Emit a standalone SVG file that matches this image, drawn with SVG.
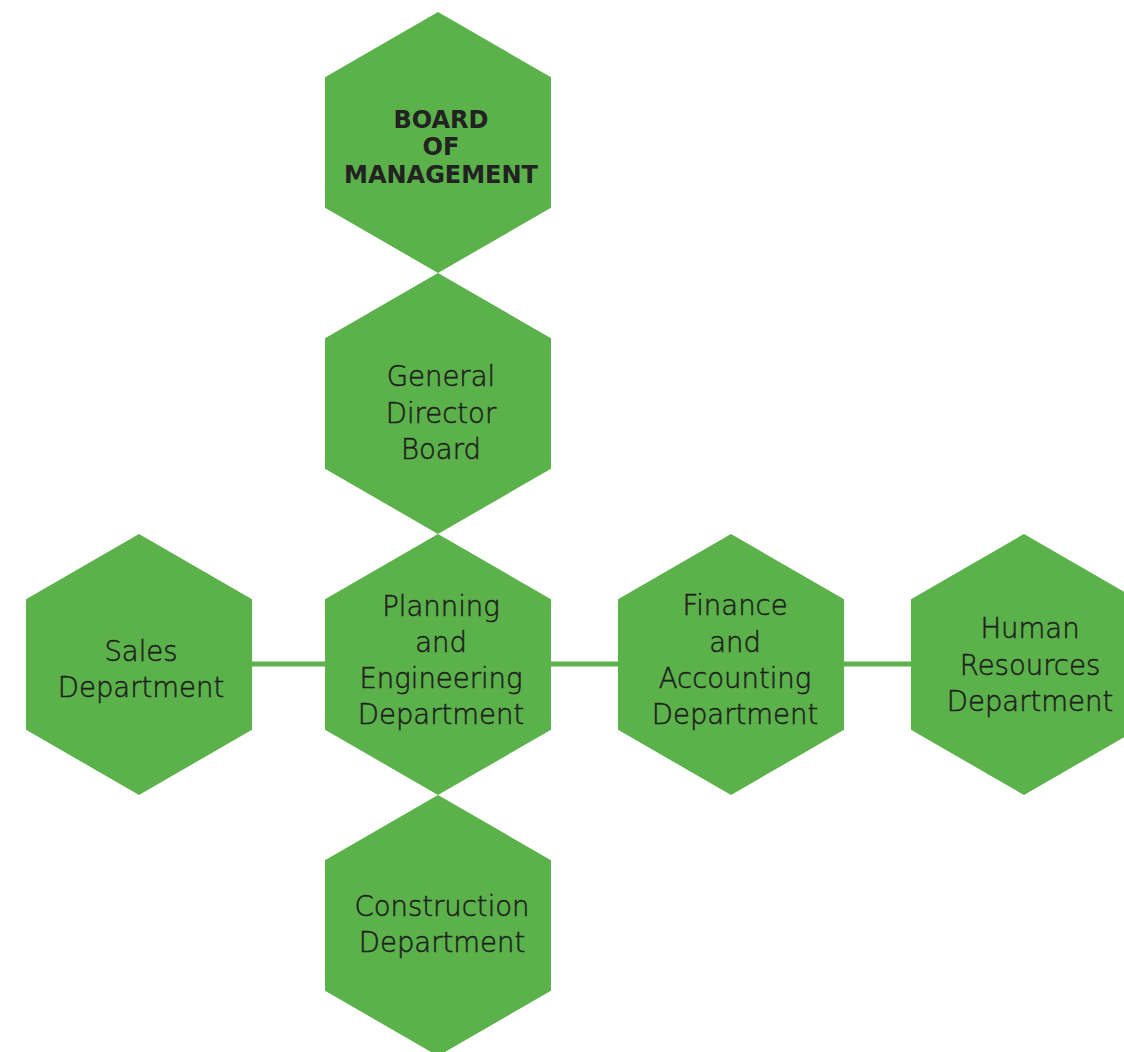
<svg xmlns="http://www.w3.org/2000/svg" xmlns:xlink="http://www.w3.org/1999/xlink" width="1124" height="1052" viewBox="0 0 1124 1052">
<style>
.hex{fill:#5bb14a}
.conn{stroke:#5bb14a;stroke-width:5;fill:none}
.t{font-family:"DejaVu Sans","Liberation Sans",sans-serif;font-size:27.5px;font-weight:300;fill:#1e1e1e;stroke:#1e1e1e;stroke-width:0.5;text-anchor:middle}
.b{font-family:"DejaVu Sans","Liberation Sans",sans-serif;font-size:24px;font-weight:bold;fill:#222;text-anchor:middle}
</style>
<defs>
<polygon id="hx" points="0,-130.5 113,-65.25 113,65.25 0,130.5 -113,65.25 -113,-65.25"/>
</defs>
<rect width="1124" height="1052" fill="#fff"/>
<g id="connectors">
<line class="conn" x1="250" y1="664" x2="327" y2="664"/>
<line class="conn" x1="549" y1="664" x2="620" y2="664"/>
<line class="conn" x1="842" y1="664" x2="912" y2="664"/>
</g>
<g id="board">
<use xlink:href="#hx" class="hex" x="438" y="142.5"/>
<text class="b" x="441" y="128">BOARD</text>
<text class="b" x="441" y="155">OF</text>
<text class="b" x="441" y="183">MANAGEMENT</text>
</g>
<g id="general-director">
<use xlink:href="#hx" class="hex" x="438" y="403.5"/>
<text class="t" x="441" y="386">General</text>
<text class="t" x="441" y="423">Director</text>
<text class="t" x="441" y="459">Board</text>
</g>
<g id="planning">
<use xlink:href="#hx" class="hex" x="438" y="664.5"/>
<text class="t" x="441" y="616">Planning</text>
<text class="t" x="441" y="652">and</text>
<text class="t" x="441" y="688">Engineering</text>
<text class="t" x="441" y="724">Department</text>
</g>
<g id="sales">
<use xlink:href="#hx" class="hex" x="139" y="664.5"/>
<text class="t" x="141" y="661">Sales</text>
<text class="t" x="141" y="697">Department</text>
</g>
<g id="finance">
<use xlink:href="#hx" class="hex" x="731" y="664.5"/>
<text class="t" x="735" y="615">Finance</text>
<text class="t" x="735" y="652">and</text>
<text class="t" x="735" y="688">Accounting</text>
<text class="t" x="735" y="724">Department</text>
</g>
<g id="hr">
<use xlink:href="#hx" class="hex" x="1024" y="664.5"/>
<text class="t" x="1030" y="638">Human</text>
<text class="t" x="1030" y="675">Resources</text>
<text class="t" x="1030" y="711">Department</text>
</g>
<g id="construction">
<use xlink:href="#hx" class="hex" x="438" y="925.5"/>
<text class="t" x="442" y="916">Construction</text>
<text class="t" x="442" y="952">Department</text>
</g>
</svg>
